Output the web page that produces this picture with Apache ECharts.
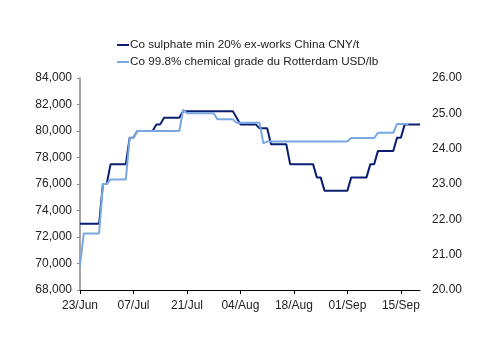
<!DOCTYPE html>
<html>
<head>
<meta charset="utf-8">
<script src="https://cdn.jsdelivr.net/npm/echarts@6/dist/echarts.min.js"></script>
<style>
	html, body { margin: 0; padding: 0; background: #fff; }
	#chart { width: 500px; height: 353px; }
</style>
</head>
<body>
<div id="chart"></div>
<script>
	// 日期: 23/Jun 起每天一个
	var startDate = new Date(2023, 5, 23);
	var dayCount = 90;
	var monthNames = ['Jan', 'Feb', 'Mar', 'Apr', 'May', 'Jun', 'Jul', 'Aug', 'Sep', 'Oct', 'Nov', 'Dec'];
	var days = [];
	for (var i = 0; i < dayCount; i++) {
		var d = new Date(startDate.getTime() + i * 86400000);
		days.push(('0' + d.getDate()).slice(-2) + '/' + monthNames[d.getMonth()]);
	}

	// Co sulphate min 20% ex-works China CNY/t (左轴)
	var sulphate = [
		73000, 73000, 73000, 73000, 73000, 73000,
		76000, 76000,
		77500, 77500, 77500, 77500, 77500,
		79500, 79500,
		80000, 80000, 80000, 80000, 80000,
		80500, 80500,
		81000, 81000, 81000, 81000, 81000,
		81500, 81500, 81500, 81500, 81500, 81500, 81500, 81500, 81500, 81500, 81500, 81500, 81500, 81500,
		81000,
		80500, 80500, 80500, 80500, 80500,
		80200, 80200, 80200,
		79000, 79000, 79000, 79000, 79000,
		77500, 77500, 77500, 77500, 77500, 77500, 77500,
		76500, 76500,
		75500, 75500, 75500, 75500, 75500, 75500, 75500,
		76500, 76500, 76500, 76500, 76500,
		77500, 77500,
		78500, 78500, 78500, 78500, 78500,
		79500, 79500,
		80500, 80500, 80500, 80500, 80500
	];

	// Co 99.8% chemical grade du Rotterdam USD/lb (右轴)
	var rotterdam = [
		20.7,
		21.6, 21.6, 21.6, 21.6, 21.6,
		23.0, 23.0,
		23.13, 23.13, 23.13, 23.13, 23.13,
		24.3, 24.3,
		24.5, 24.5, 24.5, 24.5, 24.5, 24.5, 24.5, 24.5, 24.5, 24.5, 24.5, 24.5,
		25.1,
		25.0, 25.0, 25.0, 25.0, 25.0, 25.0, 25.0, 25.0,
		24.83, 24.83, 24.83, 24.83, 24.83,
		24.73, 24.73, 24.73, 24.73, 24.73, 24.73, 24.73,
		24.15,
		24.2, 24.2, 24.2, 24.2, 24.2, 24.2, 24.2, 24.2, 24.2, 24.2, 24.2,
		24.2, 24.2, 24.2, 24.2, 24.2, 24.2, 24.2, 24.2, 24.2, 24.2, 24.2,
		24.3, 24.3, 24.3, 24.3, 24.3, 24.3, 24.3,
		24.45, 24.45, 24.45, 24.45, 24.45,
		24.7, 24.7, 24.7, 24.7
	];

	var seriesNames = [
		'Co sulphate min 20% ex-works China CNY/t',
		'Co 99.8% chemical grade du Rotterdam USD/lb'
	];

	var fontFamily = 'Liberation Sans';
	var textColor = '#222';

	var myChart = echarts.init(document.getElementById('chart'));

	var option = {
		animation: false,
		backgroundColor: '#fff',
		legend: {
			orient: 'vertical',
			left: 112,
			top: 33,
			itemWidth: 12,
			itemHeight: 2,
			itemGap: 3,
			icon: 'rect',
			textStyle: {
				fontFamily: fontFamily,
				fontSize: 11.7,
				color: textColor,
				lineHeight: 14,
				padding: [0, 0, 0, -4]
			},
			data: seriesNames
		},
		grid: {
			left: 80,
			right: 80,
			top: 78,
			bottom: 63
		},
		xAxis: {
			type: 'category',
			boundaryGap: false,
			data: days,
			axisLine: {
				lineStyle: { color: '#000', width: 1 }
			},
			axisTick: {
				interval: 13,
				length: 4,
				lineStyle: { color: '#000' }
			},
			axisLabel: {
				interval: 13,
				fontFamily: fontFamily,
				fontSize: 12,
				color: textColor,
				margin: 10
			},
			splitLine: { show: false }
		},
		yAxis: [
			{
				type: 'value',
				min: 68000,
				max: 84000,
				interval: 2000,
				axisLine: {
					show: true,
					lineStyle: { color: '#888', width: 1.5 }
				},
				axisTick: {
					show: true,
					length: 3,
					lineStyle: { color: '#888' }
				},
				axisLabel: {
					fontFamily: fontFamily,
					fontSize: 12,
					color: textColor,
					margin: 8,
					formatter: function (v) {
						return v.toLocaleString('en-US');
					}
				},
				splitLine: { show: false }
			},
			{
				type: 'value',
				min: 20,
				max: 26,
				interval: 1,
				axisLine: { show: false },
				axisTick: { show: false },
				axisLabel: {
					fontFamily: fontFamily,
					fontSize: 12,
					color: textColor,
					margin: 12,
					formatter: function (v) {
						return v.toFixed(2);
					}
				},
				splitLine: { show: false }
			}
		],
		series: [
			{
				name: seriesNames[0],
				type: 'line',
				yAxisIndex: 0,
				symbol: 'none',
				color: '#0b1f72',
				lineStyle: { width: 2, color: '#0b1f72' },
				data: sulphate
			},
			{
				name: seriesNames[1],
				type: 'line',
				yAxisIndex: 1,
				symbol: 'none',
				color: '#7aa8e2',
				lineStyle: { width: 2, color: '#7aa8e2' },
				data: rotterdam
			}
		]
	};

	myChart.setOption(option);
</script>
</body>
</html>
